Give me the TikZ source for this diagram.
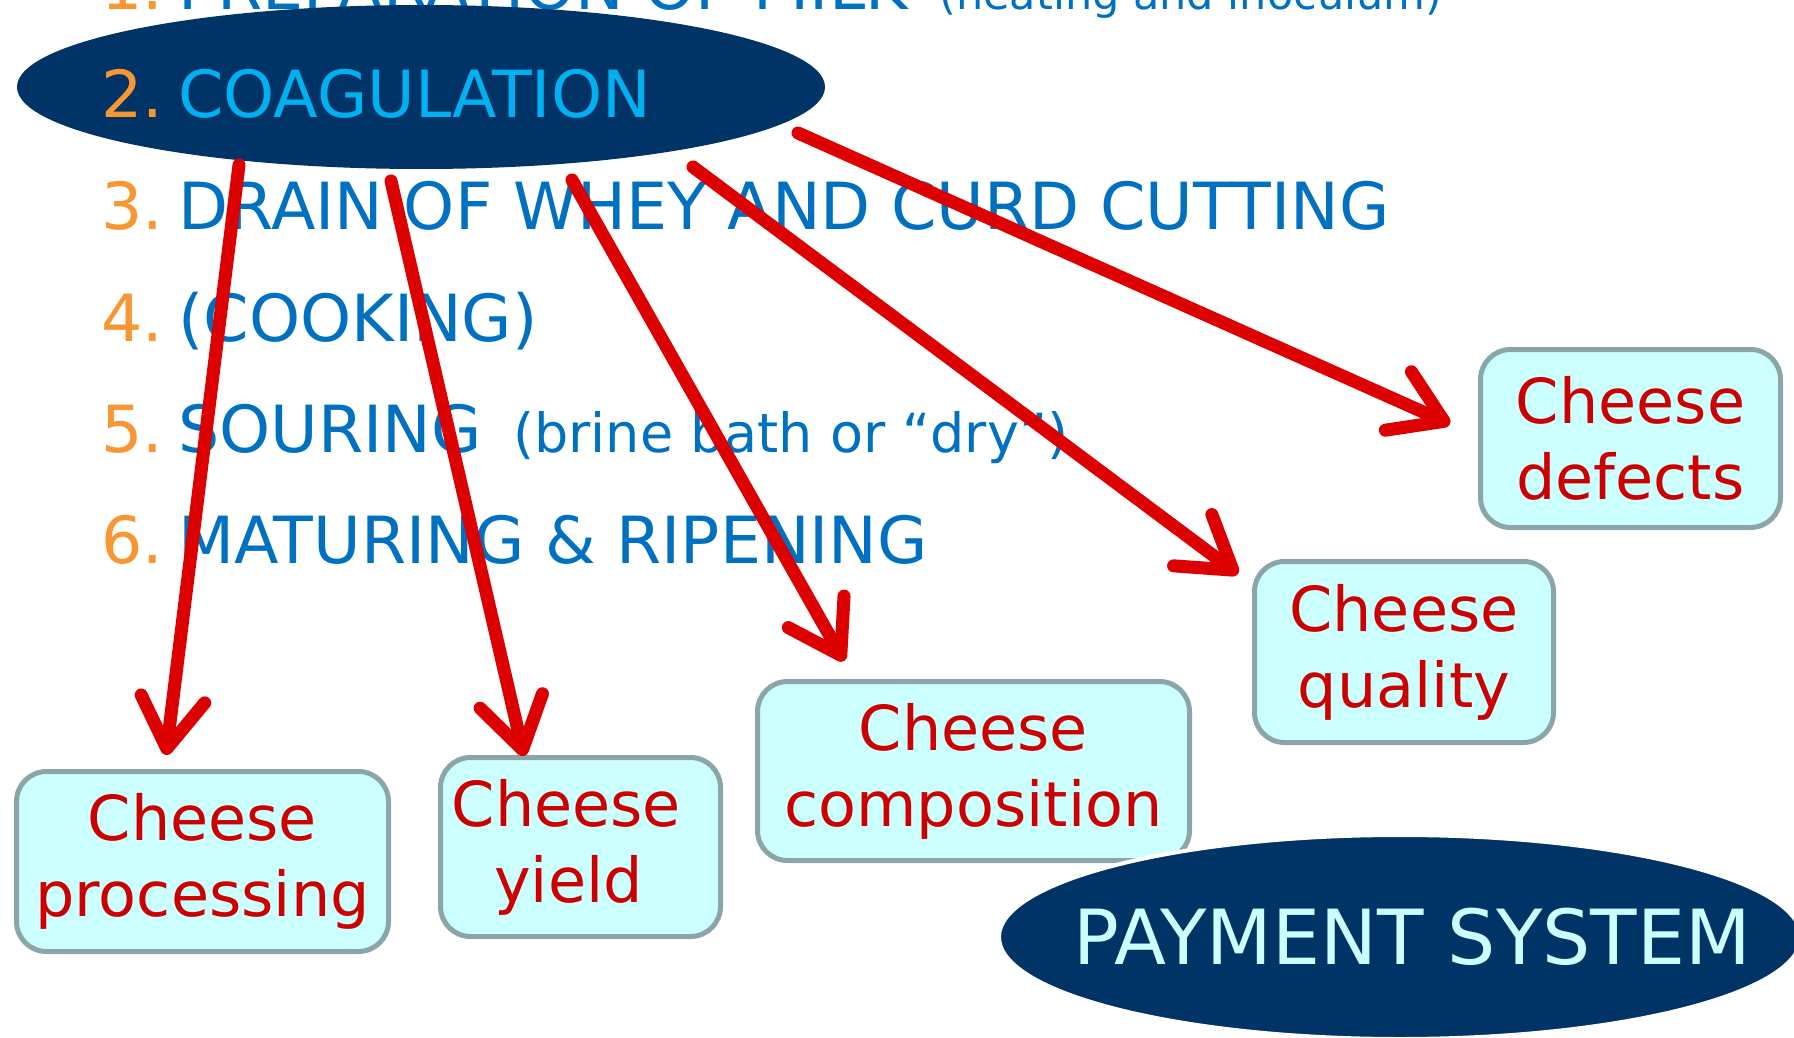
\documentclass[tikz,border=0pt]{standalone}
\usepackage{fontspec}
\setmainfont{DejaVu Sans}
\usetikzlibrary{shapes.geometric,arrows.meta}
\definecolor{navy}{RGB}{0,51,102}
\definecolor{stepnum}{RGB}{247,150,51}
\definecolor{stepblue}{RGB}{0,112,192}
\definecolor{coagblue}{RGB}{0,176,240}
\definecolor{arrowred}{RGB}{221,0,0}
\definecolor{boxred}{RGB}{204,0,0}
\definecolor{boxfill}{RGB}{204,255,255}
\definecolor{boxline}{RGB}{139,165,168}

\begin{document}
\begin{tikzpicture}[x=0.5pt,y=-0.5pt]
    \useasboundingbox (0,0) rectangle (1794,1038);
    \clip (0,0) rectangle (1794,1038);

    \tikzset{NumStyle/.style={anchor=base west, inner sep=0pt, text=stepnum,
        font=\fontsize{32.5}{39}\selectfont}}
    \tikzset{StepStyle/.style={anchor=base west, inner sep=0pt, text=stepblue,
        font=\fontsize{32.5}{39}\selectfont}}
    \tikzset{BoxStyle/.style={rectangle, rounded corners=15pt, draw=boxline,
        line width=2.5pt, fill=boxfill, text=boxred, align=center, inner sep=0pt,
        font=\fontsize{31}{38}\selectfont}}
    \tikzset{OvalStyle/.style={ellipse, fill=navy, inner sep=0pt}}
    \tikzset{ArrowStyle/.style={draw=arrowred, line width=6.5pt, line cap=round,
        -{Straight Barb[length=25pt,width=32pt,round]}}}

    \node[NumStyle]  (N1) at (101,10) {1.};
    \node[StepStyle] (S1) at (178,10) {PREPARATION OF MILK \,{\fontsize{21.5}{25}\selectfont(heating and inoculum)}};

    \node[OvalStyle, minimum width=404pt, minimum height=82pt] (C) at (421,87) {};
    \node[NumStyle]  (N2) at (101,118) {2.};
    \node[StepStyle, text=coagblue] (S2) at (178,118) {COAGULATION};

    \node[NumStyle]  (N3) at (101,229) {3.};
    \node[StepStyle] (S3) at (178,229) {DRAIN OF WHEY AND CURD CUTTING};
    \node[NumStyle]  (N4) at (101,341) {4.};
    \node[StepStyle] (S4) at (178,341) {(COOKING)};
    \node[NumStyle]  (N5) at (101,452) {5.};
    \node[StepStyle] (S5) at (178,452) {SOURING \,{\fontsize{27}{32}\selectfont(brine bath or “dry”)}};
    \node[NumStyle]  (N6) at (101,563) {6.};
    \node[StepStyle] (S6) at (178,563) {MATURING \& RIPENING};

    \node[BoxStyle, minimum width=186pt, minimum height=90pt]   (proc) at (202.5,861.5) {Cheese\\processing};
    \node[BoxStyle, minimum width=140pt, minimum height=89.5pt] (yiel) at (580.5,847)   {Cheese\hspace*{14pt}\\yield\hspace*{12pt}};
    \node[BoxStyle, minimum width=216pt, minimum height=89.5pt] (comp) at (973.5,771)   {Cheese\\composition};
    \node[BoxStyle, minimum width=149.5pt, minimum height=90.5pt] (qual) at (1404,652)  {Cheese\\quality};
    \node[BoxStyle, minimum width=150pt, minimum height=89pt]   (defe) at (1630.5,438.5) {Cheese\\defects};

    \node[OvalStyle, draw=white, line width=2pt, minimum width=401pt, minimum height=102pt] (pay) at (1400,937) {};
    \node[text=boxfill, font=\fontsize{38}{45}\selectfont, inner sep=0pt] (payt) at ([xshift=6pt]pay.center) {PAYMENT SYSTEM};

    \coordinate (a1) at (239,165);  \coordinate (b1) at (166,755);
    \coordinate (a2) at (391,181);  \coordinate (b2) at (524,756);
    \coordinate (a3) at (572,180);  \coordinate (b3) at (844,661);
    \coordinate (a4) at (693,167);  \coordinate (b4) at (1238,574);
    \coordinate (a5) at (798,133);  \coordinate (b5) at (1450,424);

    \draw[ArrowStyle] (a1) -- (b1);
    \draw[ArrowStyle] (a2) -- (b2);
    \draw[ArrowStyle] (a3) -- (b3);
    \draw[ArrowStyle] (a4) -- (b4);
    \draw[ArrowStyle] (a5) -- (b5);
\end{tikzpicture}
\end{document}
